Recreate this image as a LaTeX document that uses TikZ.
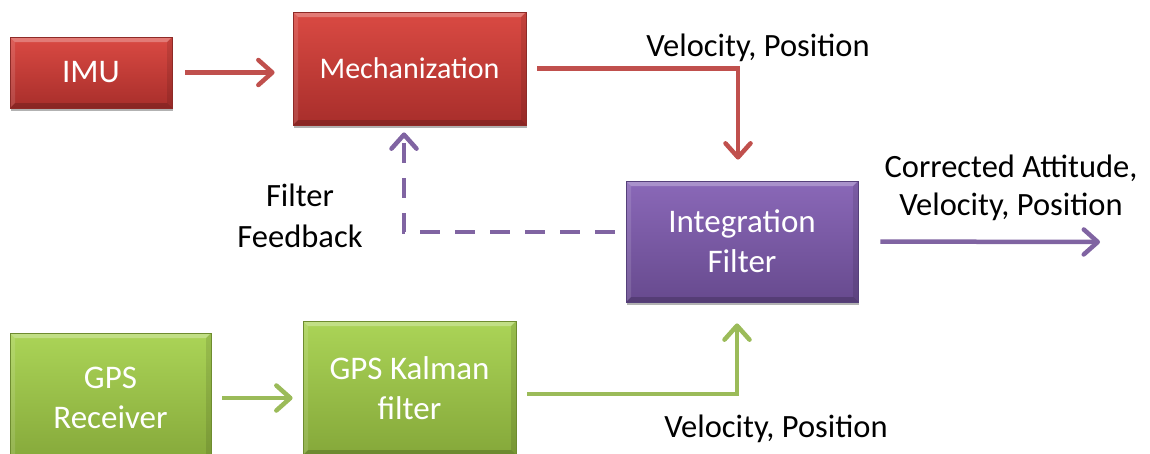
\documentclass[tikz,border=0pt]{standalone}
\usepackage{fontspec}
\setmainfont{Carlito}
\usetikzlibrary{arrows.meta,shadows}

% box fills (top / bottom of the gradient) and outlines
\definecolor{redtop}{HTML}{DA4A43}
\definecolor{redbot}{HTML}{A82E2B}
\definecolor{redline}{HTML}{8E2A27}
\definecolor{purtop}{HTML}{8A68B8}
\definecolor{purbot}{HTML}{674A8E}
\definecolor{purline}{HTML}{55407A}
\definecolor{grntop}{HTML}{ABD457}
\definecolor{grnbot}{HTML}{85A83A}
\definecolor{grnline}{HTML}{6E8C2F}
% connector colours
\definecolor{redarrow}{HTML}{C0504D}
\definecolor{purarrow}{HTML}{8064A2}
\definecolor{grnarrow}{HTML}{9BBB59}

\newcommand\boxtextfont{\fontsize{33}{40}\selectfont}
\newcommand\mechtextfont{\fontsize{30}{36}\selectfont}
\newcommand\lbltextfont{\fontsize{32.5}{38}\selectfont}

\tikzset{
  bevelled/.style={
    path picture={
      \coordinate (bvnw) at (path picture bounding box.north west);
      \coordinate (bvne) at (path picture bounding box.north east);
      \coordinate (bvsw) at (path picture bounding box.south west);
      \coordinate (bvse) at (path picture bounding box.south east);
      \fill[white,opacity=.28] (bvnw) -- (bvne) -- ([shift={(-5pt,-5pt)}]bvne)
        -- ([shift={(5pt,-5pt)}]bvnw) -- cycle;
      \fill[white,opacity=.12] (bvnw) -- ([shift={(5pt,-5pt)}]bvnw)
        -- ([shift={(5pt,5pt)}]bvsw) -- (bvsw) -- cycle;
      \fill[black,opacity=.18] (bvsw) -- (bvse) -- ([shift={(-5pt,5pt)}]bvse)
        -- ([shift={(5pt,5pt)}]bvsw) -- cycle;
      \fill[black,opacity=.10] (bvne) -- (bvse) -- ([shift={(-5pt,5pt)}]bvse)
        -- ([shift={(-5pt,-5pt)}]bvne) -- cycle;
    }},
  block/.style={rectangle, inner sep=0pt, align=center, text=white,
    font=\boxtextfont, line width=0.8pt, bevelled,
    drop shadow={shadow xshift=1pt, shadow yshift=-3pt, opacity=.3, fill=black}},
  redbox/.style={block, top color=redtop, bottom color=redbot, draw=redline},
  purplebox/.style={block, top color=purtop, bottom color=purbot, draw=purline},
  greenbox/.style={block, top color=grntop, bottom color=grnbot, draw=grnline},
  conn/.style={line width=4.5pt, -{Straight Barb[length=14pt,width=25pt,round]}},
  redconn/.style={conn, draw=redarrow},
  purconn/.style={conn, draw=purarrow},
  grnconn/.style={conn, draw=grnarrow},
  feedback/.style={dash pattern=on 20pt off 15pt},
  caption/.style={inner sep=0pt, align=center, text=black, font=\lbltextfont}
}

\begin{document}
\begin{tikzpicture}[x=1pt, y=-1pt]
  \useasboundingbox (0,0) rectangle (1150,453);
  \clip (0,0) rectangle (1150,453);

  % blocks
  \node[redbox, minimum width=162pt, minimum height=71pt] (imu) at (91,72.5) {IMU};
  \node[redbox, minimum width=233pt, minimum height=113pt, font=\mechtextfont]
    (mech) at (409.5,68.5) {Mechanization};
  \node[purplebox, minimum width=232pt, minimum height=121pt]
    (integ) at (742,241.5) {Integration\\Filter};
  \node[greenbox, minimum width=201pt, minimum height=130pt]
    (gpsr) at (110.5,398) {GPS\\Receiver};
  \node[greenbox, minimum width=213pt, minimum height=134pt]
    (kal) at (409.5,388) {GPS Kalman\\filter};

  % inertial branch
  \draw[redconn, shorten <=13pt, shorten >=18pt] (imu.east) -- (imu.east -| mech.west);
  \draw[redconn, shorten <=11pt, shorten >=21pt] (mech.east) -| ([xshift=-4pt]integ.north);

  % GPS branch
  \draw[grnconn, shorten <=11pt, shorten >=10pt] (gpsr.east) -- (gpsr.east -| kal.west);
  \draw[grnconn, shorten <=11pt, shorten >=21pt] ([yshift=-6pt]kal.east) -| ([xshift=-5pt]integ.south);

  % filter output and feedback
  \coordinate (out) at (1100,242);
  \draw[purconn, shorten <=22pt] (integ.east) -- (out);
  \draw[purconn, feedback, shorten <=11pt, shorten >=7pt]
    ([yshift=9.5pt]integ.west) -| ([xshift=-5.5pt]mech.south);

  % captions
  \node[caption, anchor=base] (vptop) at (758,56) {Velocity, Position};
  \node[caption, anchor=base] (vpbot) at (776,437) {Velocity, Position};
  \node[caption] (corr) at (1011,188) {Corrected Attitude,\\Velocity, Position};
  \node[caption, font=\fontsize{32.5}{41}\selectfont] (fb) at (300,216) {Filter\\Feedback};
\end{tikzpicture}
\end{document}
